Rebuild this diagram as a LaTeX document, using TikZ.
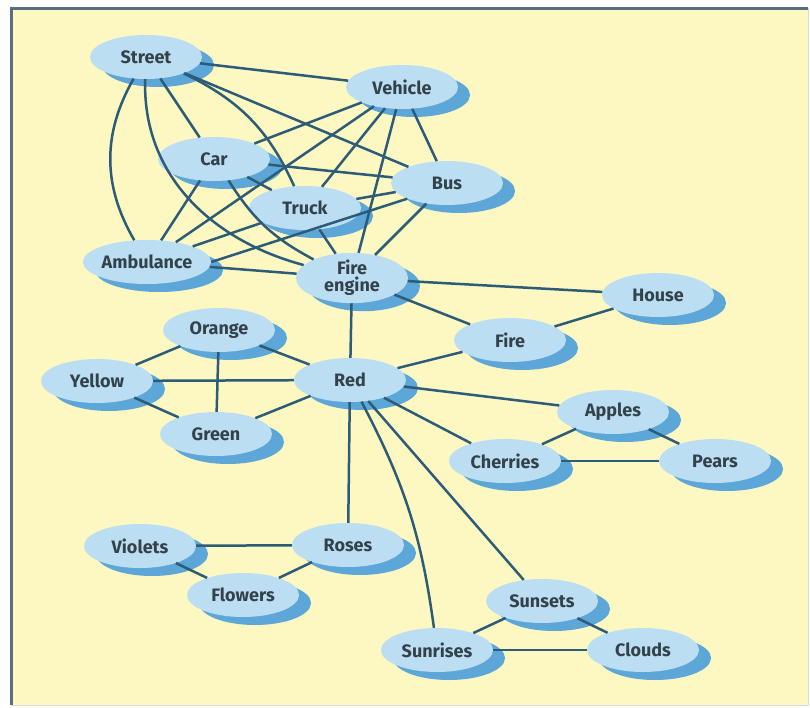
\documentclass[tikz,border=0pt]{standalone}
\usepackage{fontspec}
\setmainfont{Fira Sans}
\usetikzlibrary{shapes.geometric,shadows}

\definecolor{paper}{HTML}{FDF8C2}
\definecolor{bubble}{HTML}{BCDEF2}
\definecolor{shadowblue}{HTML}{5DA6D8}
\definecolor{linkblue}{HTML}{2C5C78}
\definecolor{labelgrey}{HTML}{33424A}
\definecolor{framegrey}{HTML}{5B6E7E}

\tikzset{
  concept/.style={ellipse, fill=bubble, minimum width=112pt, minimum height=44pt,
    inner sep=0pt, text=labelgrey, align=center,
    font=\fontsize{18}{17}\selectfont\bfseries,
    general shadow={fill=shadowblue, shadow xshift=12pt, shadow yshift=-8pt}},
  link/.style={draw=linkblue, line width=2.5pt},
}

\begin{document}
\begin{tikzpicture}[x=1pt,y=1pt]
\useasboundingbox (0,0) rectangle (810,-707);

% Frame
\fill[paper] (11,-8) rectangle (808,-705);
\draw[framegrey, line width=3pt] (11,-705) -- (11,-8) -- (808,-8);
\draw[framegrey!25, line width=1pt] (808,-8) -- (808,-705) -- (11,-705);

% Vehicles
\node[concept] (street) at (146,-57) {Street};
\node[concept] (vehicle) at (402,-87) {Vehicle};
\node[concept] (car) at (214,-159) {Car};
\node[concept] (bus) at (447,-183) {Bus};
\node[concept] (truck) at (305,-208) {Truck};
\node[concept, minimum width=120pt] (ambulance) at (147,-262) {Ambulance};
\node[concept, minimum height=50pt] (fireengine) at (352,-278) {Fire\\engine};

% Fire and colours
\node[concept] (house) at (658,-295) {House};
\node[concept] (fire) at (510,-340) {Fire};
\node[concept] (orange) at (219,-330) {Orange};
\node[concept] (yellow) at (97,-381) {Yellow};
\node[concept] (red) at (350,-380) {Red};
\node[concept] (green) at (216,-434) {Green};

% Fruit
\node[concept] (apples) at (613,-412) {Apples};
\node[concept] (cherries) at (505,-461) {Cherries};
\node[concept] (pears) at (715,-461) {Pears};

% Flowers and sky
\node[concept] (violets) at (140,-546) {Violets};
\node[concept] (roses) at (348,-545) {Roses};
\node[concept] (flowers) at (243,-595) {Flowers};
\node[concept] (sunsets) at (542,-601) {Sunsets};
\node[concept] (sunrises) at (437,-650) {Sunrises};
\node[concept] (clouds) at (643,-650) {Clouds};

% Links among vehicles
\draw[link] (street) -- (vehicle);
\draw[link] (street) -- (car);
\draw[link] (street) to[bend left=20] (truck);
\draw[link] (street) -- (bus);
\draw[link] (street) to[bend right=30] (ambulance);
\draw[link] (street) to[out=-92,in=165] (fireengine);
\draw[link] (vehicle) -- (car);
\draw[link] (vehicle) -- (truck);
\draw[link] (vehicle) -- (bus);
\draw[link] (vehicle) -- (ambulance);
\draw[link] (vehicle) -- (fireengine);
\draw[link] (car) -- (bus);
\draw[link] (car) -- (truck);
\draw[link] (car) -- (ambulance);
\draw[link] (car) to[bend right=15] (fireengine);
\draw[link] (truck) -- (bus);
\draw[link] (truck) -- (ambulance);
\draw[link] (truck) -- (fireengine);
\draw[link] (bus.south west) -- (ambulance.east);
\draw[link] (bus) -- (fireengine);
\draw[link] (ambulance) -- (fireengine);

% Links round fire
\draw[link] (fireengine) -- (house);
\draw[link] (fireengine) -- (fire);
\draw[link] (fire) -- (house);
\draw[link] (fireengine) -- (red);
\draw[link] (fire) -- (red);

% Links round red
\draw[link] (orange) -- (red);
\draw[link] (yellow) -- (red);
\draw[link] (green) -- (red);
\draw[link] (orange) -- (yellow);
\draw[link] (orange) -- (green);
\draw[link] (yellow) -- (green);
\draw[link] (red) -- (apples);
\draw[link] (red) -- (cherries);
\draw[link] (apples) -- (cherries);
\draw[link] (apples) -- (pears);
\draw[link] (cherries) -- (pears);
\draw[link] (red) -- (roses);
\draw[link] (violets) -- (roses);
\draw[link] (violets) -- (flowers);
\draw[link] (flowers) -- (roses);
\draw[link] (red) -- (sunsets);
\draw[link] (red) to[bend left=10] (sunrises);
\draw[link] (sunsets) -- (sunrises);
\draw[link] (sunsets) -- (clouds);
\draw[link] (sunrises) -- (clouds);
\end{tikzpicture}
\end{document}
